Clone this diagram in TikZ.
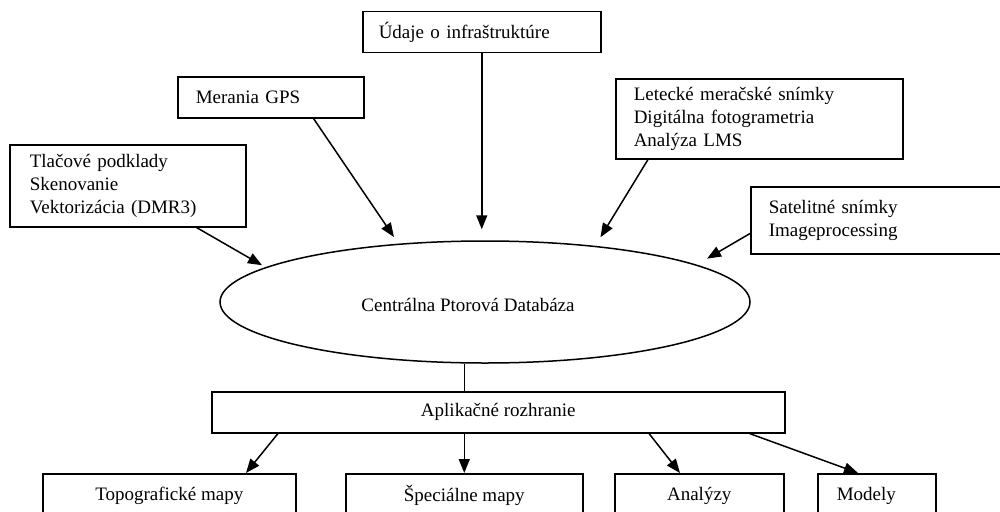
\documentclass[tikz,border=0pt]{standalone}
\usepackage{fontspec}
\setmainfont{Liberation Serif}
\usetikzlibrary{arrows.meta,shapes.geometric}
\tikzset{
  every node/.style={font=\fontsize{19}{23}\selectfont},
  lbox/.style={draw, line width=1.5pt, align=left, inner ysep=0pt, inner xsep=#1, anchor=north west},
  lbox/.default=18pt,
  cbox/.style={draw, line width=1.5pt, align=center, inner sep=0pt, anchor=north west},
  arr/.style={line width=1.5pt, -{Triangle[length=14pt,width=11pt]}},
  conn/.style={line width=1.5pt}
}
\begin{document}
\begin{tikzpicture}[x=1pt,y=-1pt]
\useasboundingbox (0,0) rectangle (1000,511);
% source boxes
\node[lbox=16pt, text width=206pt, minimum height=41pt] (ud) at (362,11) {Údaje o infraštruktúre};
\node[lbox, text width=150pt, minimum height=41pt] (gps) at (177,76) {Merania GPS};
\node[lbox=20pt, text width=196pt, minimum height=82pt] (tl) at (9,144) {Tlačové podklady\\Skenovanie\\Vektorizácia (DMR3)};
\node[lbox, text width=251pt, minimum height=80pt] (le) at (615,78) {Letecké meračské snímky\\Digitálna fotogrametria\\Analýza LMS};
\node[lbox, text width=219pt, minimum height=67pt] (sa) at (750,186) {Satelitné snímky\\Imageprocessing};
% central database
\node[ellipse, draw, line width=1.5pt, inner sep=0pt, minimum width=530pt, minimum height=122pt] (db) at (485,302) {};
\node (dbt) at (468,305) {Centrálna Ptorová Databáza};
% application interface
\node[cbox, minimum width=573pt, minimum height=41pt] (ap) at (211,391) {Aplikačné rozhranie};
% outputs
\node[cbox, minimum width=253pt, minimum height=44pt] (topo) at (42,473) {Topografické mapy};
\node[cbox, minimum width=237pt, minimum height=44pt] (sp) at (345,473) {Špeciálne mapy};
\node[cbox, minimum width=169pt, minimum height=44pt] (an) at (614,473) {Analýzy};
\node[lbox=19pt, text width=80pt, minimum height=44pt] (mo) at (817,473) {Modely};
% connectors into database
\draw[arr, shorten >=4pt] ([xshift=-50pt]tl.south east) -- (db.171.6);
\draw[arr, shorten >=8pt] ([xshift=-51pt]gps.south east) -- (db.146.8);
\draw[arr, shorten >=11pt] (ud.south) -- (ud.south |- db.north);
\draw[arr, shorten >=10pt] ([xshift=33pt]le.south west) -- (db.27.1);
\draw[arr, shorten >=12pt] ([yshift=21pt]sa.south west) -- (db.10.65);
% database to interface
\draw[conn] (db.south -| sp.north) -- (ap.north -| sp.north);
% interface to outputs
\draw[arr] ([xshift=67pt]ap.south west) -- ([xshift=204pt]topo.north west);
\draw[arr] (ap.south -| sp.north) -- (sp.north);
\draw[arr] ([xshift=438pt]ap.south west) -- ([xshift=66pt]an.north west);
\draw[arr] ([xshift=-36pt]ap.south east) -- ([xshift=41pt]mo.north west);
\end{tikzpicture}
\end{document}
